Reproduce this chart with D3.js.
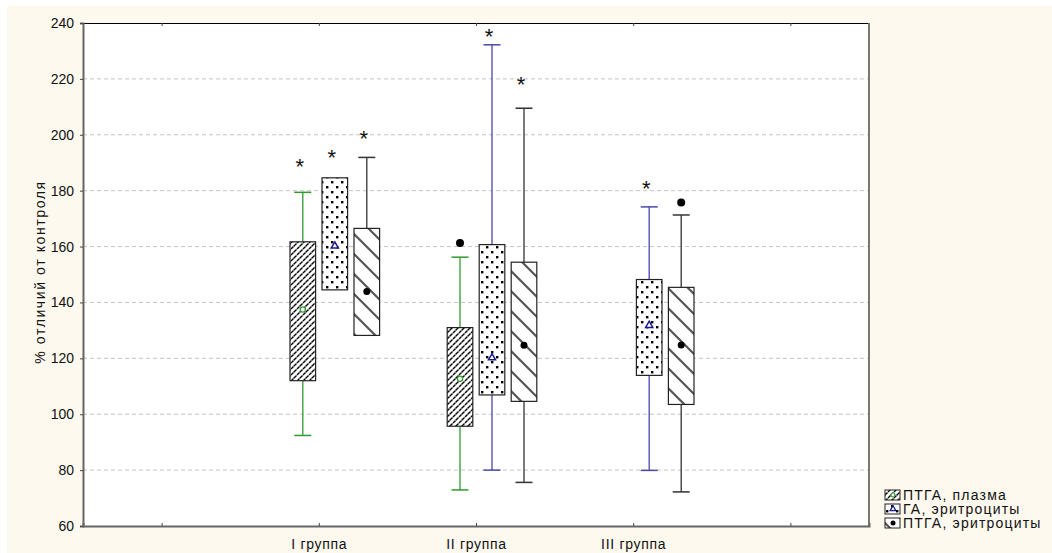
<!DOCTYPE html>
<html>
<head>
<meta charset="utf-8">
<script src="https://cdn.jsdelivr.net/npm/d3@7"></script>
<style>
  html, body { margin: 0; padding: 0; background: #ffffff; }
  svg { display: block; }
  text { font-family: "Liberation Sans", Arial, sans-serif; fill: #111; }
</style>
</head>
<body>
<svg id="chart" width="1052" height="553"></svg>
<script>
// Categories on the x axis (empty slots at both ends)
const groupLabels = ["", "I группа", "II группа", "III группа", ""];
const seriesNames = ["ПТГА, плазма", "ГА, эритроциты", "ПТГА, эритроциты"];
const yTicks = [60, 80, 100, 120, 140, 160, 180, 200, 220, 240];

// Per series (rows) and group I, II, III (columns); null = not measured
const whiskerMin = [
  [92.4, 72.9, null],
  [144.5, 80.0, 79.9],
  [128.2, 75.6, 72.2]
];
const boxBottom = [
  [112.0, 95.7, null],
  [144.5, 106.9, 113.9],
  [128.2, 104.6, 103.5]
];
const meanValue = [
  [137.5, 112.7, null],
  [160.2, 120.2, 131.8],
  [143.9, 124.7, 124.8]
];
const boxTop = [
  [161.7, 131.0, null],
  [184.6, 160.7, 148.2],
  [166.5, 154.4, 145.4]
];
const whiskerMax = [
  [179.4, 156.2, null],
  [184.6, 232.2, 174.2],
  [191.9, 209.5, 171.3]
];
// Single extreme values drawn as dots
const outlierValue = [
  [null, 161.3, null],
  [null, null, null],
  [null, null, 175.8]
];
// Significance marks (*) and the level they are placed at
const starLevel = [
  [189.8, null, null],
  [193.0, 236.5, 182.0],
  [200.0, 219.3, null]
];

const seriesColor = ["#2f9a2f", "#4848aa", "#333333"];

const svg = d3.select("#chart");
const W = 1052, H = 553;
const plot = { left: 83, right: 869, top: 23, bottom: 526 };

// background panel
svg.append("rect").attr("x", 7).attr("y", 6).attr("width", W - 7).attr("height", H - 6)
  .attr("fill", "#fdf9ee");
svg.append("rect").attr("x", plot.left).attr("y", plot.top)
  .attr("width", plot.right - plot.left).attr("height", plot.bottom - plot.top)
  .attr("fill", "#ffffff");

// fill patterns
const defs = svg.append("defs");
// forward diagonal, broken strokes
const p0 = defs.append("pattern").attr("id", "pat0").attr("patternUnits", "userSpaceOnUse")
  .attr("width", 6).attr("height", 6);
p0.append("rect").attr("width", 6).attr("height", 6).attr("fill", "#fff");
p0.append("path").attr("d", "M0,6 L6,0 M-1,1 L1,-1 M5,7 L7,5")
  .attr("stroke", "#000").attr("stroke-width", 1.35).attr("stroke-dasharray", "3.6,0.65");
// staggered dots
const p1 = defs.append("pattern").attr("id", "pat1").attr("patternUnits", "userSpaceOnUse")
  .attr("width", 10).attr("height", 10);
p1.append("rect").attr("width", 10).attr("height", 10).attr("fill", "#fff");
p1.append("rect").attr("x", 1).attr("y", 1).attr("width", 2.4).attr("height", 2.4).attr("fill", "#000");
p1.append("rect").attr("x", 6).attr("y", 6).attr("width", 2.4).attr("height", 2.4).attr("fill", "#000");
// wide backward diagonal
const p2 = defs.append("pattern").attr("id", "pat2").attr("patternUnits", "userSpaceOnUse")
  .attr("width", 20).attr("height", 20);
p2.append("rect").attr("width", 20).attr("height", 20).attr("fill", "#fff");
p2.append("path").attr("d", "M-5,-5 L25,25 M-5,15 L5,25 M15,-5 L25,5")
  .attr("stroke", "#555").attr("stroke-width", 2.2);

// scales
const x = d3.scaleLinear().domain([-0.5, groupLabels.length - 0.5]).range([plot.left, plot.right]);
const y = d3.scaleLinear().domain([60, 240]).range([plot.bottom, plot.top]);
const offset = d3.scaleBand().domain(d3.range(seriesNames.length)).range([-32, 64])
  .paddingInner(0.2).paddingOuter(0.1);
const bw = offset.bandwidth();
const capW = 17;

// grid
svg.append("g").selectAll("line").data(yTicks.filter(t => t > 60 && t < 240)).join("line")
  .attr("x1", plot.left).attr("x2", plot.right)
  .attr("y1", d => y(d)).attr("y2", d => y(d))
  .attr("stroke", "#c4c4c4").attr("stroke-dasharray", "4,3");

// frame
svg.append("line").attr("x1", plot.left).attr("x2", plot.right).attr("y1", plot.top + 0.5).attr("y2", plot.top + 0.5)
  .attr("stroke", "#000");
svg.append("line").attr("x1", plot.right).attr("x2", plot.right).attr("y1", plot.top).attr("y2", plot.bottom + 1)
  .attr("stroke", "#777").attr("stroke-width", 2);

// axes
const yAxis = d3.axisLeft(y).tickValues(yTicks).tickSize(3).tickPadding(6);
const gy = svg.append("g").attr("transform", `translate(${plot.left},0)`).call(yAxis);
gy.select(".domain").attr("stroke", "#666").attr("stroke-width", 2);
gy.selectAll(".tick line").attr("stroke", "#444");
gy.selectAll("text").style("font-size", "14px").attr("fill", "#111");

const xAxis = d3.axisBottom(x).tickValues(d3.range(groupLabels.length))
  .tickFormat(i => groupLabels[i]).tickSize(-3).tickPadding(13);
const gx = svg.append("g").attr("transform", `translate(0,${plot.bottom})`).call(xAxis);
gx.select(".domain").attr("stroke", "#666").attr("stroke-width", 2);
gx.selectAll(".tick line").attr("stroke", "#444");
gx.selectAll("text").style("font-size", "14px").style("letter-spacing", "0.7px").attr("fill", "#111");

const xTop = d3.axisTop(x).tickValues(d3.range(groupLabels.length)).tickFormat("").tickSize(-3);
const gxt = svg.append("g").attr("transform", `translate(0,${plot.top})`).call(xTop);
gxt.select(".domain").remove();
gxt.selectAll(".tick line").attr("stroke", "#444");

// y title
svg.append("text")
  .attr("transform", `translate(45,272) rotate(-90)`)
  .attr("text-anchor", "middle")
  .style("font-size", "14px").style("letter-spacing", "1.6px")
  .text("% отличий от контроля");

// boxes
const marks = svg.append("g");
seriesNames.forEach((name, s) => {
  [0, 1, 2].forEach(g => {
    if (boxTop[s][g] == null) return;
    const cx = x(g + 1) + offset(s) + bw / 2;
    const col = seriesColor[s];
    const grp = marks.append("g");
    // whiskers
    if (whiskerMax[s][g] > boxTop[s][g]) {
      grp.append("line").attr("x1", cx).attr("x2", cx)
        .attr("y1", y(boxTop[s][g])).attr("y2", y(whiskerMax[s][g])).attr("stroke", col).attr("stroke-width", 1.3);
      grp.append("line").attr("x1", cx - capW / 2).attr("x2", cx + capW / 2)
        .attr("y1", y(whiskerMax[s][g])).attr("y2", y(whiskerMax[s][g])).attr("stroke", col).attr("stroke-width", 1.5);
    }
    if (whiskerMin[s][g] < boxBottom[s][g]) {
      grp.append("line").attr("x1", cx).attr("x2", cx)
        .attr("y1", y(boxBottom[s][g])).attr("y2", y(whiskerMin[s][g])).attr("stroke", col).attr("stroke-width", 1.3);
      grp.append("line").attr("x1", cx - capW / 2).attr("x2", cx + capW / 2)
        .attr("y1", y(whiskerMin[s][g])).attr("y2", y(whiskerMin[s][g])).attr("stroke", col).attr("stroke-width", 1.5);
    }
    grp.append("rect")
      .attr("x", cx - bw / 2).attr("y", y(boxTop[s][g]))
      .attr("width", bw).attr("height", y(boxBottom[s][g]) - y(boxTop[s][g]))
      .attr("fill", `url(#pat${s})`).attr("stroke", "#222").attr("stroke-width", 1.2);
    // mean marker
    const my = y(meanValue[s][g]);
    if (s === 0) {
      grp.append("circle").attr("cx", cx).attr("cy", my).attr("r", 2.6)
        .attr("fill", "#fff").attr("stroke", col).attr("stroke-width", 1.3);
    } else if (s === 1) {
      grp.append("path").attr("transform", `translate(${cx},${my})`)
        .attr("d", d3.symbol(d3.symbolTriangle, 22)())
        .attr("fill", "#fff").attr("stroke", "#1a1a8c").attr("stroke-width", 1.5);
    } else {
      grp.append("circle").attr("cx", cx).attr("cy", my).attr("r", 3.5).attr("fill", "#000");
    }
    if (outlierValue[s][g] != null) {
      grp.append("circle").attr("cx", cx).attr("cy", y(outlierValue[s][g])).attr("r", 4).attr("fill", "#000");
    }
    if (starLevel[s][g] != null) {
      grp.append("text").attr("x", cx - 3).attr("y", y(starLevel[s][g]) + 11)
        .attr("text-anchor", "middle").style("font-size", "22px")
        .text("*");
    }
  });
});

// legend
const legend = svg.append("g").attr("transform", "translate(885,495)");
seriesNames.forEach((name, s) => {
  const row = legend.append("g").attr("transform", `translate(0,${s * 14})`);
  row.append("rect").attr("x", 0).attr("y", -5).attr("width", 15).attr("height", 10)
    .attr("fill", `url(#pat${s})`).attr("stroke", "#222").attr("stroke-width", 1);
  if (s === 0) {
    row.append("circle").attr("cx", 8).attr("cy", 0).attr("r", 2).attr("fill", "#fff")
      .attr("stroke", seriesColor[0]).attr("stroke-width", 1.2);
  } else if (s === 1) {
    row.append("path").attr("transform", "translate(8,0)").attr("d", d3.symbol(d3.symbolTriangle, 14)())
      .attr("fill", "#fff").attr("stroke", "#1a1a8c").attr("stroke-width", 1.3);
  } else {
    row.append("circle").attr("cx", 8).attr("cy", 0).attr("r", 2.5).attr("fill", "#000");
  }
  row.append("text").attr("x", 18).attr("y", 5).style("font-size", "14px").style("letter-spacing", "1.2px")
    .text(name);
});
</script>
</body>
</html>
